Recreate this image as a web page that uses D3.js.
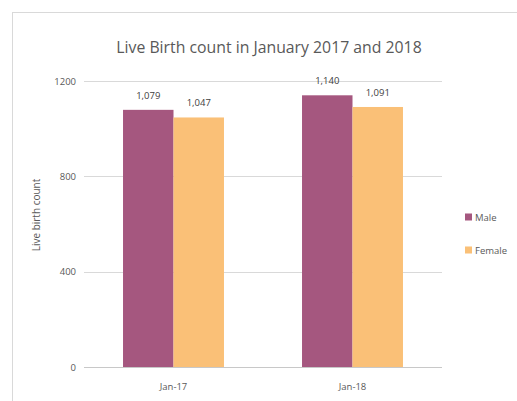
<!DOCTYPE html>
<html><head><meta charset="utf-8">
<script src="https://cdn.jsdelivr.net/npm/d3@7"></script>
<style>body{margin:0;background:#fff}svg{display:block}text{font-family:"Open Sans","Liberation Sans",sans-serif}</style>
</head><body>
<script>
const categories = ["Jan-17", "Jan-18"];
const seriesNames = ["Male", "Female"];
const maleValues = [1079, 1140];
const femaleValues = [1047, 1091];
const yTicks = [0, 400, 800, 1200];
const colors = ["#a5577f", "#fac077"];

const W = 517, H = 401;
const svg = d3.select("body").append("svg").attr("width", W).attr("height", H);
svg.append("rect").attr("x", 12.5).attr("y", 12.5).attr("width", 600).attr("height", 500)
  .attr("fill", "#fff").attr("stroke", "#d9d9d9");

const x0 = d3.scaleBand().domain(categories).range([84, 442]).paddingInner(0.436).paddingOuter(0.218);
const x1 = d3.scaleBand().domain(seriesNames).range([0, x0.bandwidth()]);
const y = d3.scaleLinear().domain([0, 1200]).range([367, 81]);

svg.append("text").attr("x", 269).attr("y", 53).attr("text-anchor", "middle")
  .attr("font-size", 15.8).attr("fill", "#595959").text("Live Birth count in January 2017 and 2018");

const grid = svg.append("g");
grid.selectAll("line").data(yTicks).join("line")
  .attr("x1", 84).attr("x2", 442).attr("y1", d => Math.round(y(d)) + 0.5).attr("y2", d => Math.round(y(d)) + 0.5)
  .attr("stroke", d => d === 0 ? "#c8c8c8" : "#d9d9d9");

const yAxis = d3.axisLeft(y).tickValues(yTicks).tickSize(0).tickPadding(0).tickFormat(d3.format("d"));
const ya = svg.append("g").attr("transform", "translate(76,0)").call(yAxis);
ya.select(".domain").remove();
ya.selectAll("text").attr("font-size", 9.5).attr("fill", "#595959").attr("font-family", "'Open Sans', sans-serif");

const xAxis = d3.axisBottom(x0).tickSize(0).tickPadding(0);
const xa = svg.append("g").attr("transform", "translate(0,383)").call(xAxis);
xa.select(".domain").remove();
xa.selectAll("text").attr("font-size", 9.5).attr("fill", "#595959").attr("font-family", "'Open Sans', sans-serif");

svg.append("text").attr("transform", "translate(40,215) rotate(-90)").attr("text-anchor", "middle")
  .attr("font-size", 10).attr("fill", "#595959").text("Live birth count");

const rows = categories.map((c, i) => ({cat: c, vals: [maleValues[i], femaleValues[i]]}));
const groups = svg.selectAll("g.grp").data(rows).join("g").attr("class", "grp")
  .attr("transform", d => `translate(${x0(d.cat)},0)`);
groups.selectAll("rect").data(d => d.vals.map((v, j) => ({s: seriesNames[j], v, j}))).join("rect")
  .attr("x", d => x1(d.s)).attr("width", x1.bandwidth())
  .attr("y", d => y(d.v)).attr("height", d => y(0) - y(d.v)).attr("fill", d => colors[d.j]);
groups.selectAll("text").data(d => d.vals.map((v, j) => ({s: seriesNames[j], v, j}))).join("text")
  .attr("x", d => x1(d.s) + x1.bandwidth() / 2).attr("y", d => y(d.v) - 11)
  .attr("text-anchor", "middle").attr("font-size", 9.5).attr("fill", "#404040")
  .text(d => d3.format(",")(d.v));

const leg = svg.selectAll("g.leg").data(seriesNames).join("g").attr("class", "leg")
  .attr("transform", (d, i) => `translate(465,${217 + i * 33})`);
leg.append("rect").attr("x", 0).attr("y", -3.5).attr("width", 7).attr("height", 7).attr("fill", (d, i) => colors[i]);
leg.append("text").attr("x", 10).attr("y", 3.5).attr("font-size", 9.5).attr("fill", "#595959").text(d => d);
</script>
</body></html>
